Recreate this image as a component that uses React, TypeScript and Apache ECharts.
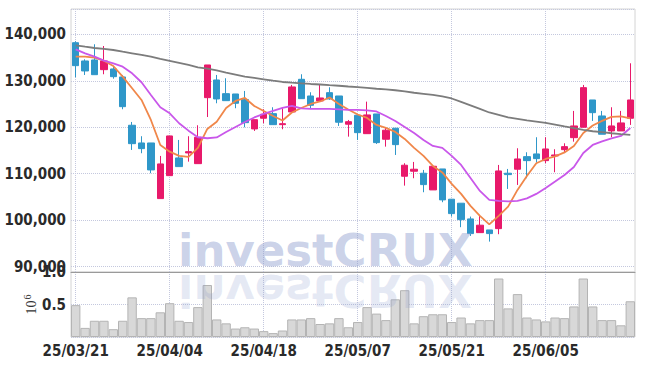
import React, { useEffect, useRef } from 'react';
import * as echarts from 'echarts';

const dates = ['25/03/21','25/03/24','25/03/25','25/03/26','25/03/27','25/03/28','25/03/31','25/04/01','25/04/02','25/04/03','25/04/04','25/04/07','25/04/08','25/04/09','25/04/10','25/04/11','25/04/14','25/04/15','25/04/16','25/04/17','25/04/18','25/04/21','25/04/22','25/04/23','25/04/24','25/04/25','25/04/28','25/04/29','25/04/30','25/05/02','25/05/07','25/05/08','25/05/09','25/05/12','25/05/13','25/05/14','25/05/15','25/05/16','25/05/19','25/05/20','25/05/21','25/05/22','25/05/23','25/05/26','25/05/27','25/05/28','25/05/29','25/05/30','25/06/02','25/06/04','25/06/05','25/06/09','25/06/10','25/06/11','25/06/12','25/06/13','25/06/16','25/06/17','25/06/18','25/06/19'];

const openP = [138190,134260,134470,132390,132540,130820,120430,116620,116620,104650,109590,113400,114470,112170,126370,130170,127230,127160,125940,119640,121940,122930,120560,123290,130320,126730,125660,127440,126730,120650,122580,118620,122860,117420,119790,109460,110540,110110,106520,111030,104520,103660,100280,97330,97910,98190,110110,110970,113680,114260,112820,113830,115180,117760,120000,125870,122430,119210,119210,121940];
const closeP = [133250,132110,131310,134260,130880,124430,116470,115400,110820,112110,118130,111530,114750,117850,133400,126090,125720,125160,120990,121630,122800,120560,120770,128670,126150,124730,126300,126090,121080,121200,118840,122650,116690,119360,116260,111830,110970,107660,111610,104370,101420,100130,97120,98930,97120,110600,109810,113180,112820,113250,115330,114040,115830,120280,128520,123140,118500,120280,120930,125870];
const lowP = [130750,131250,131300,131400,130450,123870,115120,114410,110110,104650,109590,111530,112600,112170,122200,125160,125720,124090,120000,119210,120860,120560,119570,123290,126150,124000,125660,125900,120280,117980,117270,118620,116410,115830,114040,107440,109030,106020,106520,103870,100780,98500,96620,97330,95400,96990,106730,107590,109030,112390,112260,110320,114440,116900,120000,121360,118500,117850,119210,120500];
const highP = [138500,134620,137850,137480,133030,131250,121140,118070,116620,113830,118130,117270,118070,120430,133400,131250,130540,127160,127810,121630,123870,124300,124090,129100,131400,127530,129310,128600,126730,121570,122580,125510,122860,119910,119790,112260,112540,110820,111610,111030,104520,103660,100780,101140,97910,111890,111030,115480,114620,117850,117850,115270,116550,123510,129100,125870,123510,124300,123510,133760];

const ma5 = [135180,135180,134970,134320,133180,130880,128390,125870,121570,116190,114750,113830,113610,115550,119630,121200,124150,125660,126300,124580,123510,122430,121460,123180,124150,125010,125550,126410,125010,123830,122750,122000,120500,119850,118990,117480,115550,113830,111680,110280,107810,105660,103080,100930,99100,100930,102930,106520,109530,112260,113180,113720,114580,115980,118770,120390,121360,122220,122320,121890];
const ma20 = [136770,135910,135180,134320,133760,133030,131610,129680,126950,124300,123010,120860,119270,117850,117630,117810,118990,120070,121140,122110,122860,123510,124150,124580,124040,123940,123940,123940,123830,123720,123720,123610,123400,122430,121360,120070,118770,117270,115980,115550,113830,111890,109100,106300,104370,104150,104040,104150,104690,105660,106950,108340,109740,111460,114470,116190,116950,117590,118130,119850];
const ma60 = [137630,137330,137050,136840,136620,136260,135910,135550,135180,134690,134260,133830,133400,132900,132620,132220,131740,131310,130880,130600,130320,130020,129740,129590,129460,129310,129200,129050,128930,128770,128620,128450,128280,128130,127960,127700,127420,127200,126950,126620,126190,125440,124690,123940,123180,122650,122110,121790,121460,121200,120920,120560,120170,119790,119420,119140,118930,118710,118520,118340];

// volume in millions (10^6)
const volume = [0.49,0.14,0.25,0.25,0.12,0.25,0.61,0.29,0.29,0.38,0.52,0.25,0.23,0.46,0.80,0.27,0.21,0.13,0.15,0.13,0.09,0.06,0.10,0.27,0.27,0.29,0.20,0.21,0.29,0.15,0.23,0.46,0.36,0.26,0.58,0.72,0.21,0.32,0.35,0.35,0.23,0.30,0.21,0.26,0.26,0.90,0.44,0.66,0.30,0.27,0.24,0.30,0.29,0.47,0.90,0.47,0.26,0.26,0.18,0.55];

const priceTicks = [90000, 100000, 110000, 120000, 130000, 140000];
const dateTicks = ['25/03/21', '25/04/04', '25/04/18', '25/05/07', '25/05/21', '25/06/05'];

const LABEL_FONT = '"Liberation Sans Narrow", "DejaVu Sans Condensed", sans-serif';
const GRID_LINE = { color: '#c4c8de', type: 'dotted' as const, width: 1 };

const vLines = {
  silent: true,
  symbol: ['none', 'none'],
  label: { show: false },
  lineStyle: GRID_LINE,
  emphasis: { disabled: true },
  data: dateTicks.map((d) => ({ xAxis: d })),
  z: 0,
};

export default function App() {
  const ref = useRef<HTMLDivElement>(null);
  useEffect(() => {
    if (!ref.current) return;
    const chart = echarts.init(ref.current, undefined, { renderer: 'svg' });
    const candles = openP.map((o, i) => [o, closeP[i], lowP[i], highP[i]]);
    const labelStyle = { fontSize: 15, fontWeight: 'bold', color: '#2a2a2a', fontFamily: LABEL_FONT };
    const option: any = {
      animation: false,
      grid: [
        { left: 71, right: 10, top: 9, height: 263, show: true, borderColor: '#d4d4d4', borderWidth: 1 },
        { left: 71, right: 10, top: 272, height: 65, show: true, borderColor: '#d4d4d4', borderWidth: 1 },
      ],
      xAxis: [
        {
          type: 'category', data: dates, gridIndex: 0, boundaryGap: true,
          axisLine: { show: true, lineStyle: { color: '#9a9a9a' } },
          axisTick: { show: false }, axisLabel: { show: false },
          splitLine: { show: false },
        },
        {
          type: 'category', data: dates, gridIndex: 1, boundaryGap: true,
          axisLine: { show: false }, axisTick: { show: false },
          axisLabel: { show: true, interval: 9, margin: 6, ...labelStyle },
          splitLine: { show: false },
        },
      ],
      yAxis: [
        {
          type: 'value', gridIndex: 0, min: 88860, max: 145440,
          axisLine: { show: false }, axisTick: { show: false },
          splitLine: { show: true, lineStyle: GRID_LINE },
          axisLabel: {
            margin: 5, ...labelStyle,
            formatter: (v: number) => (priceTicks.includes(v) ? v.toLocaleString('en-US') : ''),
          },
        },
        {
          type: 'value', gridIndex: 1, min: 0, max: 1, interval: 0.5,
          axisLine: { show: false }, axisTick: { show: false },
          splitLine: { show: true, lineStyle: GRID_LINE },
          axisLabel: {
            margin: 5, ...labelStyle,
            formatter: (v: number) => (v === 0 ? '' : v.toFixed(1)),
          },
          name: '{a|10}{b|6}', nameLocation: 'middle', nameGap: 31, nameRotate: 90, nameMoveOverlap: false,
          nameTextStyle: {
            rich: {
              a: { fontSize: 14, fontFamily: '"Liberation Serif", serif', color: '#333' },
              b: { fontSize: 10, fontFamily: '"Liberation Serif", serif', color: '#333', verticalAlign: 'top', padding: [0, 0, 8, 1] },
            },
          },
        },
      ],
      series: [
        {
          type: 'candlestick', name: 'price', xAxisIndex: 0, yAxisIndex: 0, data: candles, barWidth: 7,
          itemStyle: { color: '#e8196a', color0: '#2f97c9', borderColor: '#e8196a', borderColor0: '#2f97c9', borderWidth: 1 },
          markLine: vLines,
        },
        { type: 'line', name: 'MA5', xAxisIndex: 0, yAxisIndex: 0, data: ma5, showSymbol: false, lineStyle: { color: '#f0874a', width: 1.8 }, z: 3 },
        { type: 'line', name: 'MA20', xAxisIndex: 0, yAxisIndex: 0, data: ma20, showSymbol: false, lineStyle: { color: '#c957ea', width: 1.8 }, z: 3 },
        { type: 'line', name: 'MA60', xAxisIndex: 0, yAxisIndex: 0, data: ma60, showSymbol: false, lineStyle: { color: '#7c7c7c', width: 1.8 }, z: 3 },
        {
          type: 'bar', name: 'volume', xAxisIndex: 1, yAxisIndex: 1, data: volume, barCategoryGap: '0%',
          itemStyle: { color: '#d8d8d8', borderColor: '#b4b4b4', borderWidth: 1 },
          markLine: vLines,
        },
      ],
      graphic: [
        {
          type: 'text', x: 178, y: 273, z: 100, silent: true,
          style: { text: 'investCRUX', fontSize: 45, fontWeight: 'bold', fontFamily: '"DejaVu Sans", sans-serif', fill: 'rgba(140,155,205,0.45)', verticalAlign: 'bottom' },
        },
        {
          type: 'text', x: 178, y: 268, scaleY: -1, z: 100, silent: true,
          style: { text: 'investCRUX', fontSize: 45, fontWeight: 'bold', fontFamily: '"DejaVu Sans", sans-serif', fill: 'rgba(140,155,205,0.22)', verticalAlign: 'bottom' },
        },
      ],
    };
    chart.setOption(option);
    return () => chart.dispose();
  }, []);
  return <div ref={ref} style={{ position: 'fixed', left: 0, top: 0, width: 645, height: 366, background: '#fff' }} />;
}
